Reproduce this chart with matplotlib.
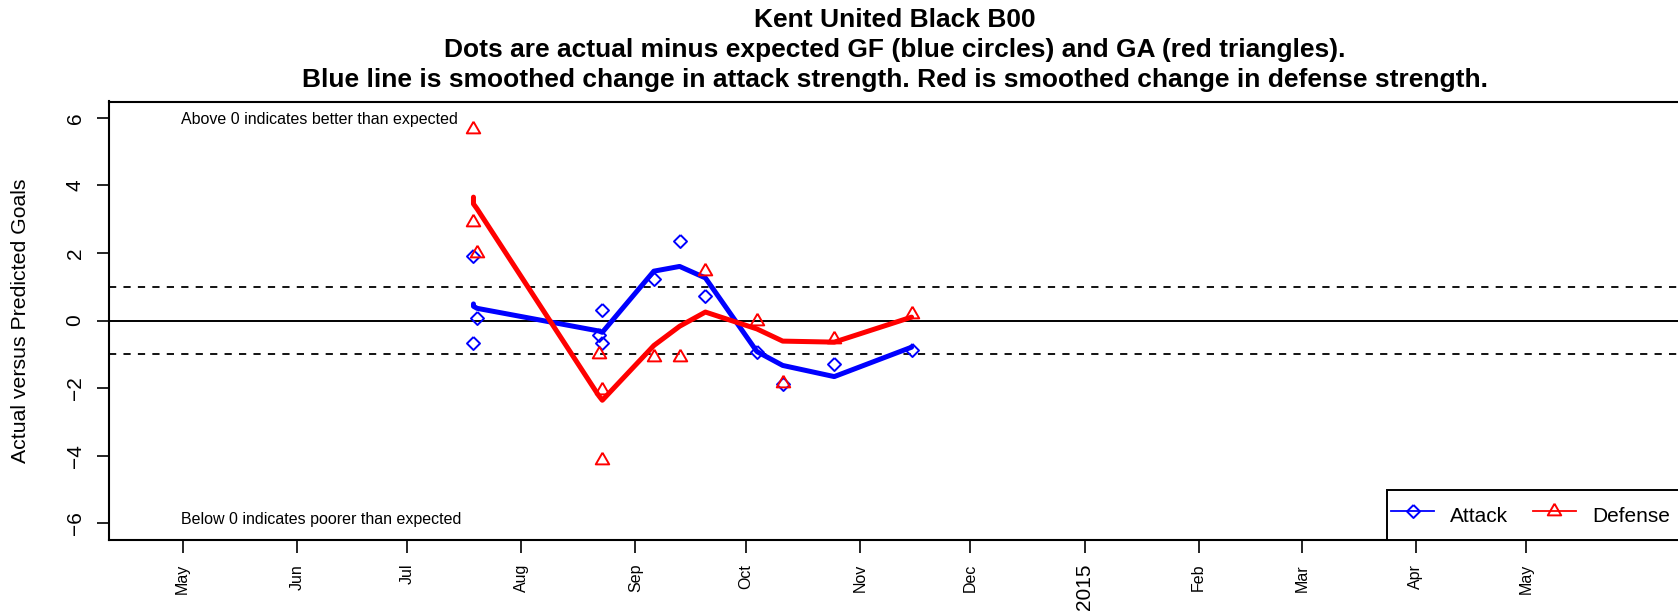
import matplotlib
matplotlib.use("Agg")
import matplotlib.pyplot as plt
import pandas as pd
from matplotlib.lines import Line2D
from matplotlib.patches import Rectangle

plt.rcParams["font.family"] = ["Liberation Sans", "DejaVu Sans"]

TITLE_LINES = [
    "Kent United Black B00",
    "Dots are actual minus expected GF (blue circles) and GA (red triangles).",
    "Blue line is smoothed change in attack strength. Red is smoothed change in defense strength.",
]

# one entry per game
game_dates = pd.to_datetime([
    "2014-07-19", "2014-07-19", "2014-07-20", "2014-08-22", "2014-08-23",
    "2014-08-23", "2014-09-06", "2014-09-13", "2014-09-20", "2014-10-04",
    "2014-10-11", "2014-10-25", "2014-11-15",
])
gf_diff = [1.90, -0.66, 0.08, -0.44, 0.32, -0.66, 1.23, 2.34, 0.72, -0.94, -1.87, -1.28, -0.86]
ga_diff = [5.67, 2.91, 1.99, -0.98, -2.05, -4.14, -1.08, -1.08, 1.46, 0.00, -1.84, -0.54, 0.20]
attack_smooth = [0.49, 0.42, 0.36, -0.31, -0.35, -0.35, 1.46, 1.60, 1.26, -0.92, -1.33, -1.66, -0.79]
defense_smooth = [3.65, 3.45, 3.30, -2.22, -2.36, -2.36, -0.74, -0.17, 0.25, -0.25, -0.61, -0.64, 0.10]

month_ticks = pd.date_range("2014-05-01", "2015-05-01", freq="MS")
month_labels = ["May", "Jun", "Jul", "Aug", "Sep", "Oct", "Nov", "Dec",
                "2015", "Feb", "Mar", "Apr", "May"]
y_ticks = [-6, -4, -2, 0, 2, 4, 6]

W, H = 1678, 616
LEFT, RIGHT, TOP, BOTTOM = 109, 1681, 101.5, 539.5

fig = plt.figure(figsize=(W / 100, H / 100), dpi=100)
ax = fig.add_axes([LEFT / W, 1 - BOTTOM / H, (RIGHT - LEFT) / W, (BOTTOM - TOP) / H])

triangle = [(0, 1), (0.866, -0.5), (-0.866, -0.5), (0, 1)]
diamond = [(0, 1), (1, 0), (0, -1), (-1, 0), (0, 1)]

ax.axhline(0, color="black", lw=1.4)
for level in (1, -1):
    ax.axhline(level, color="black", lw=1.3, linestyle=(0, (4, 4)))

ax.plot(game_dates, attack_smooth, color="blue", lw=3.6,
        solid_capstyle="round", solid_joinstyle="round")
ax.plot(game_dates, defense_smooth, color="red", lw=3.6,
        solid_capstyle="round", solid_joinstyle="round")
ax.plot(game_dates, gf_diff, linestyle="none", marker=diamond, ms=9.4,
        mfc="none", mec="blue", mew=1.4)
ax.plot(game_dates, ga_diff, linestyle="none", marker=triangle, ms=11.2,
        mfc="none", mec="red", mew=1.4)

ax.text(pd.Timestamp("2014-04-30 12:00"), 5.95, "Above 0 indicates better than expected",
        fontsize=11.5, ha="left", va="center")
ax.text(pd.Timestamp("2014-04-30 12:00"), -5.9, "Below 0 indicates poorer than expected",
        fontsize=11.5, ha="left", va="center")

ax.set_xlim(pd.Timestamp("2014-04-11"), pd.Timestamp("2015-06-12"))
ax.set_ylim(-6.48, 6.48)

ax.set_yticks(y_ticks)
ax.set_yticklabels([str(v).replace("-", "\u2212") for v in y_ticks],
                   rotation=90, va="center", fontsize=15)
ax.set_xticks(month_ticks)
ax.set_xticklabels(month_labels, rotation=90, ha="center", va="top")
for label in ax.get_xticklabels():
    label.set_fontsize(15 if label.get_text().isdigit() else 11.5)

ax.tick_params(axis="both", direction="out", length=9, width=1.2, pad=8.6)
for side in ("left", "bottom", "top", "right"):
    ax.spines[side].set_linewidth(1.5)

fig.text(21 / W, 1 - 320.5 / H, "Actual versus Predicted Goals", rotation=90,
         fontsize=15.3, ha="center", va="center")

title_x = (LEFT + RIGHT) / 2 / W
for line, y_px in zip(TITLE_LINES, (20, 50, 79.5)):
    fig.text(title_x, 1 - y_px / H, line, fontsize=19, fontweight="bold",
             ha="center", va="center")

# legend box drawn by hand: in the reference it runs past the right edge
ax.add_patch(Rectangle((0.813, 0), 0.2, 0.113, transform=ax.transAxes,
                       facecolor="white", edgecolor="black", lw=1.4,
                       clip_on=False, zorder=4))
handles = [
    Line2D([], [], color="blue", lw=1.3, marker=diamond, ms=9.4, mfc="none", mew=1.4, label="Attack"),
    Line2D([], [], color="red", lw=1.3, marker=triangle, ms=11.2, mfc="none", mew=1.4, label="Defense"),
]
legend = ax.legend(handles=handles, loc="lower left", bbox_to_anchor=(0.813, 0.014), ncol=2,
                   frameon=False, fontsize=15, handlelength=2.05, handleheight=1.74,
                   handletextpad=0.77, columnspacing=1.2, borderaxespad=0, borderpad=0.2,
                   numpoints=1)
legend.set_zorder(5)

fig.savefig("out.png", dpi=100)
